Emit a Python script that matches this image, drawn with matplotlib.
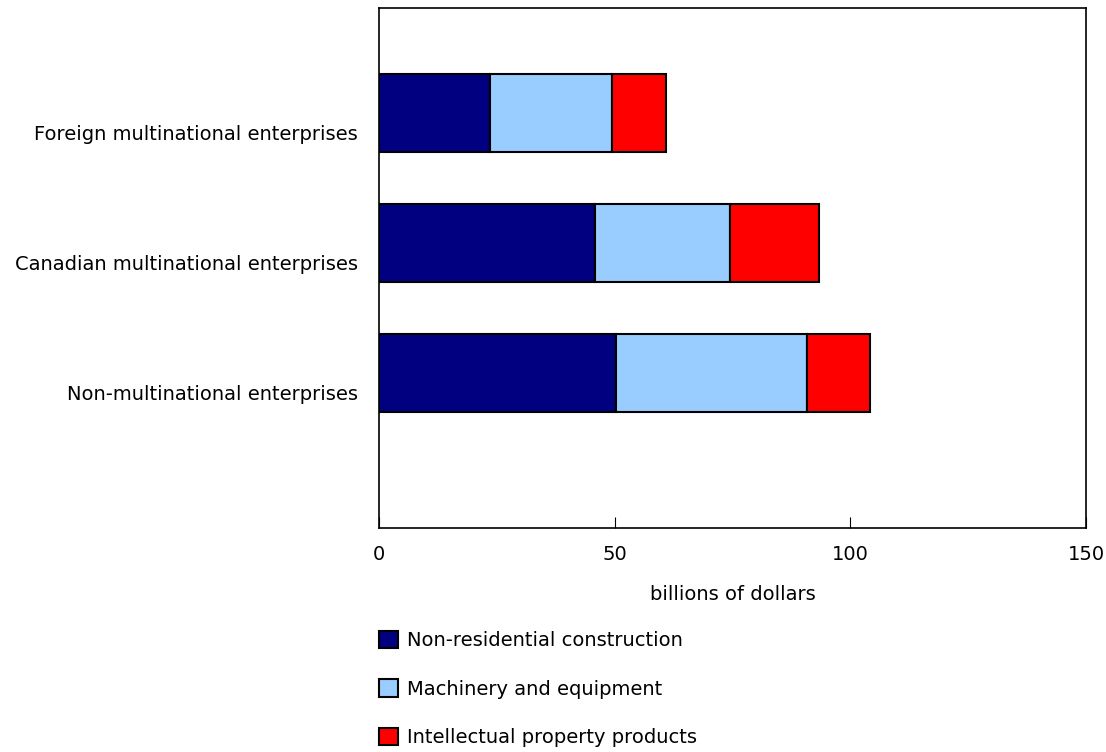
import matplotlib.pyplot as plt
import matplotlib.transforms as mtransforms
import numpy as np

categories = ['Non-multinational enterprises', 'Canadian multinational enterprises',
              'Foreign multinational enterprises']
construction = [50.2, 45.8, 23.5]
machinery = [40.6, 28.7, 25.9]
ip_products = [13.4, 18.8, 11.4]
series_names = ['Non-residential construction', 'Machinery and equipment',
                'Intellectual property products']
colors = ['#000080', '#99ccff', '#ff0000']

plt.rcParams['font.family'] = 'DejaVu Sans'

fig = plt.figure(figsize=(11.06, 7.52), dpi=100)
ax = fig.add_axes([379 / 1106, 224 / 752, 707 / 1106, 520 / 752])

y = np.arange(len(categories))
left = np.zeros(len(categories))
handles = []
for vals, name, col in zip([construction, machinery, ip_products], series_names, colors):
    b = ax.barh(y, vals, left=left, height=0.6, color=col, edgecolor='black',
                linewidth=1.5, label=name)
    handles.append(b)
    left += np.array(vals)

ax.set_xlim(0, 150)
ax.set_ylim(-1.19, 2.81)
ax.set_xticks([0, 50, 100, 150])
ax.set_yticks(y)
ax.set_yticklabels(categories, fontsize=14)
ax.tick_params(axis='y', length=0, pad=15)
ax.tick_params(axis='x', direction='in', length=8, labelsize=14, pad=12)
ax.set_xlabel('billions of dollars', fontsize=14, labelpad=15)
for s in ax.spines.values():
    s.set_linewidth(1.2)

# labels sit a little below the bar centres in the original
shift = mtransforms.ScaledTranslation(0, -0.19, fig.dpi_scale_trans)
for lbl in ax.get_yticklabels():
    lbl.set_transform(lbl.get_transform() + shift)

fig.legend(handles=handles, loc='upper left', bbox_to_anchor=(371 / 1106, 1 - 623 / 752),
           frameon=False, fontsize=14, handlelength=1.0, handleheight=1.0,
           handletextpad=0.45, labelspacing=1.5, borderaxespad=0)

fig.savefig('out.png', dpi=100)
